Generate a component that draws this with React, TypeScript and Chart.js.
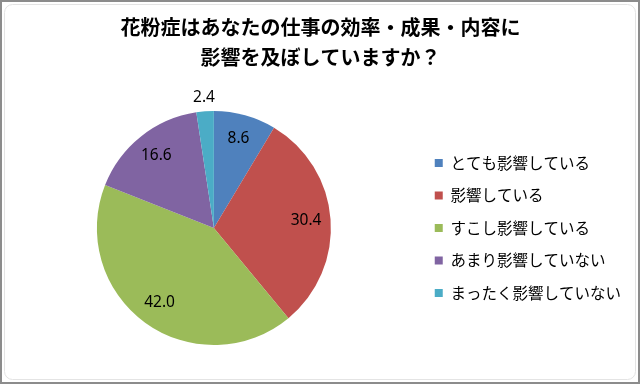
import React, { useEffect, useRef } from "react";
import { Chart, registerables } from "chart.js";

Chart.register(...registerables);

const titleLines = ["花粉症はあなたの仕事の効率・成果・内容に", "影響を及ぼしていますか？"];
const categories = ["とても影響している", "影響している", "すこし影響している", "あまり影響していない", "まったく影響していない"];
const values = [8.6, 30.4, 42.0, 16.6, 2.4];
const colors = ["#4F81BD", "#C0504D", "#9BBB59", "#8064A2", "#4BACC6"];

const frame = {
  id: "frame",
  beforeDraw(chart: any) {
    const { ctx, width, height } = chart;
    ctx.save();
    ctx.fillStyle = "#ffffff";
    ctx.fillRect(0, 0, width, height);
    ctx.strokeStyle = "#e4e4e4";
    ctx.lineWidth = 1;
    ctx.beginPath();
    (ctx as any).roundRect(4.5, 4.5, width - 9, height - 9, 8);
    ctx.stroke();
    ctx.strokeStyle = "#8c8c8c";
    ctx.lineWidth = 2;
    ctx.strokeRect(1, 1, width - 2, height - 2);
    ctx.restore();
  },
};

const labels = {
  id: "sliceLabels",
  afterDatasetsDraw(chart: any) {
    const { ctx } = chart;
    const meta = chart.getDatasetMeta(0);
    ctx.save();
    ctx.font = "15.5px 'Noto Sans', 'DejaVu Sans', sans-serif";
    ctx.fillStyle = "#000000";
    ctx.textAlign = "center";
    ctx.textBaseline = "middle";
    meta.data.forEach((arc: any, i: number) => {
      const p = arc.getProps(["x", "y", "startAngle", "endAngle", "outerRadius"], true);
      const mid = (p.startAngle + p.endAngle) / 2;
      const v = values[i];
      const r = v < 5 ? p.outerRadius + 14 : p.outerRadius * 0.79;
      ctx.fillText(v.toFixed(1), p.x + Math.cos(mid) * r, p.y + Math.sin(mid) * r);
    });
    ctx.restore();
  },
};

export default function App() {
  const ref = useRef<HTMLCanvasElement | null>(null);
  useEffect(() => {
    if (!ref.current) return;
    const chart = new Chart(ref.current, {
      type: "pie",
      data: {
        labels: categories,
        datasets: [
          {
            data: values,
            backgroundColor: colors,
            borderWidth: 0,
          },
        ],
      },
      options: {
        animation: false,
        responsive: false,
        layout: { padding: { left: 10, right: 9, top: 0, bottom: 39 } },
        plugins: {
          title: {
            display: true,
            text: titleLines,
            color: "#000000",
            font: { family: "'Noto Sans CJK JP', sans-serif", size: 20, weight: "bold", lineHeight: 1.5 },
            padding: { top: 12, bottom: 39 },
          },
          legend: {
            position: "right",
            fullSize: false,
            labels: {
              boxWidth: 8,
              boxHeight: 8,
              padding: 17,
              color: "#000000",
              font: { family: "'Noto Sans CJK JP', sans-serif", size: 15.5 },
            },
          },
          tooltip: { enabled: false },
        },
      },
      plugins: [frame, labels],
    });
    return () => chart.destroy();
  }, []);
  return (
    <div style={{ position: "fixed", left: 0, top: 0, width: 640, height: 384 }}>
      <canvas ref={ref} width={640} height={384} />
    </div>
  );
}
